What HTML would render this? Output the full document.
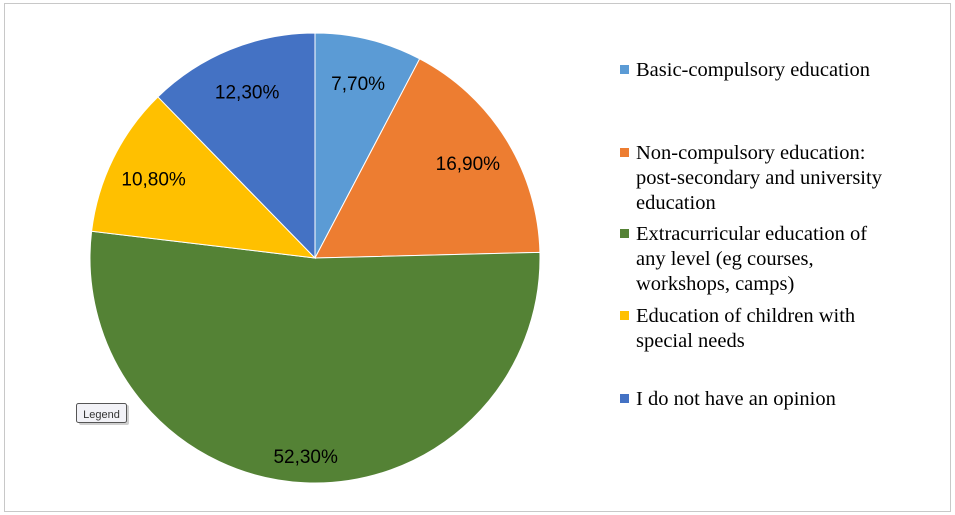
<!DOCTYPE html>
<html><head><meta charset="utf-8"><style>
body{margin:0;background:#fff;width:955px;height:515px;overflow:hidden;}
svg{display:block}
.lbl{font-family:"Liberation Sans",sans-serif;font-size:19px;fill:#000}
.leg{font-family:"Liberation Serif",serif;font-size:20.5px;fill:#000}
</style></head><body>
<svg id="chart" width="955" height="515" xmlns="http://www.w3.org/2000/svg">
<rect x="4.5" y="3.5" width="946" height="508" fill="#fff" stroke="#c8c8c8"/>
<g id="slices"></g>
<g id="labels"></g>
<g id="legend"></g>
<g>
<rect x="79" y="405" width="50" height="20" rx="2" fill="#888" opacity="0.4"/>
<rect x="76.5" y="403.5" width="50" height="19" rx="2" fill="#f2f2f7" stroke="#555"/>
<text x="101.5" y="418" text-anchor="middle" font-family="Liberation Sans,sans-serif" font-size="11" fill="#333">Legend</text>
</g>
</svg>
<script>
const categories=["Basic-compulsory education","Non-compulsory education: post-secondary and university education","Extracurricular education of any level (eg courses, workshops, camps)","Education of children with special needs","I do not have an opinion"];
const values=[7.7,16.9,52.3,10.8,12.3];
const valueLabels=["7,70%","16,90%","52,30%","10,80%","12,30%"];
const colors=["#5b9bd5","#ed7d31","#548235","#ffc000","#4472c4"];
const legendLines=[["Basic-compulsory education"],["Non-compulsory education:","post-secondary and university","education"],["Extracurricular education of","any level (eg courses,","workshops, camps)"],["Education of children with","special needs"],["I do not have an opinion"]];
const legendTop=[69,152,233,315,398];
const NS="http://www.w3.org/2000/svg";
const cx=315,cy=258,r=225;
const total=values.reduce((a,b)=>a+b,0);
function ang(v){return v/total*2*Math.PI;}
function pt(a,rr){return [cx+rr*Math.sin(a),cy-rr*Math.cos(a)];}
let a0=0;
const gS=document.getElementById('slices'),gL=document.getElementById('labels'),gG=document.getElementById('legend');
values.forEach((v,i)=>{
 const a1=a0+ang(v);
 const p0=pt(a0,r),p1=pt(a1,r);
 const path=document.createElementNS(NS,'path');
 path.setAttribute('d',`M${cx},${cy}L${p0[0]},${p0[1]}A${r},${r} 0 ${a1-a0>Math.PI?1:0} 1 ${p1[0]},${p1[1]}Z`);
 path.setAttribute('fill',colors[i]);
 path.setAttribute('stroke','#fff');path.setAttribute('stroke-width','1');
 
 
 gS.appendChild(path);
 const m=(a0+a1)/2;
 const lp=pt(m,r*(i===2?0.88:0.8));
 const t=document.createElementNS(NS,'text');
 t.setAttribute('x',lp[0]);t.setAttribute('y',lp[1]+7);
 t.setAttribute('text-anchor','middle');t.setAttribute('class','lbl');
 t.textContent=valueLabels[i];
 
 
 gL.appendChild(t);
 a0=a1;
});
categories.forEach((c,i)=>{
 const g=document.createElementNS(NS,'g');
 
 
 const sq=document.createElementNS(NS,'rect');
 sq.setAttribute('x',620);sq.setAttribute('y',legendTop[i]-4);sq.setAttribute('width',9);sq.setAttribute('height',9);
 sq.setAttribute('fill',colors[i]);
 g.appendChild(sq);
 legendLines[i].forEach((ln,j)=>{
  const t=document.createElementNS(NS,'text');
  t.setAttribute('x',636);t.setAttribute('y',legendTop[i]+7+j*25);
  t.setAttribute('class','leg');t.textContent=ln;
  g.appendChild(t);
 });
 gG.appendChild(g);
});
</script>
</body></html>
